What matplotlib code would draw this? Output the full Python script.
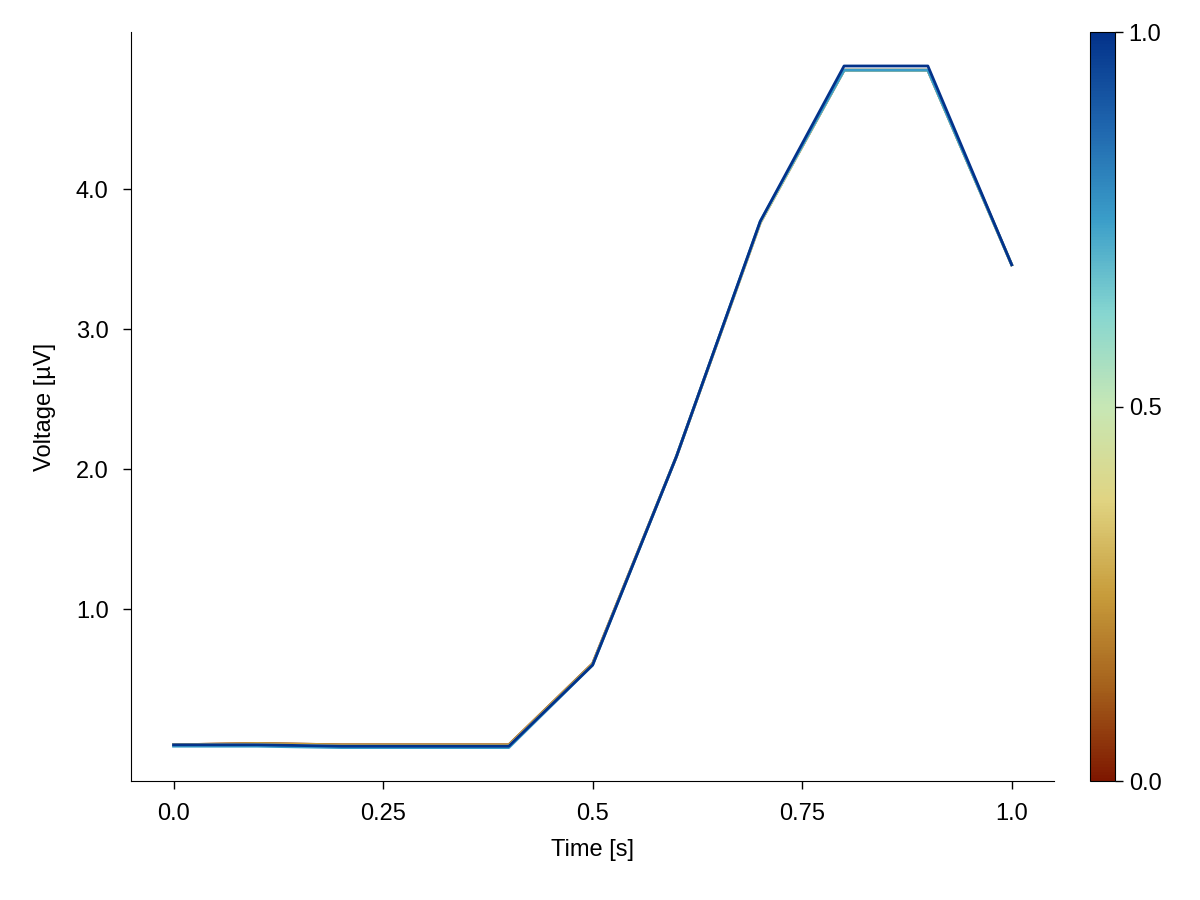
import numpy as np
import matplotlib.pyplot as plt
from matplotlib.colors import LinearSegmentedColormap
import matplotlib as mpl

plt.rcParams['font.family'] = ['Liberation Sans', 'DejaVu Sans']
plt.rcParams['font.size'] = 17

time = [0.0, 0.1, 0.2, 0.3, 0.4, 0.5, 0.6, 0.7, 0.8, 0.9, 1.0]
levels = [0.0, 0.25, 0.5, 0.75, 1.0]
series = [
    [0.03, 0.04, 0.03, 0.03, 0.03, 0.61, 2.09, 3.76, 4.85, 4.85, 3.46],
    [0.03, 0.04, 0.03, 0.03, 0.03, 0.61, 2.09, 3.76, 4.85, 4.85, 3.46],
    [0.03, 0.03, 0.02, 0.02, 0.02, 0.60, 2.09, 3.76, 4.85, 4.85, 3.46],
    [0.02, 0.02, 0.01, 0.01, 0.01, 0.60, 2.09, 3.77, 4.85, 4.85, 3.46],
    [0.03, 0.03, 0.02, 0.02, 0.02, 0.60, 2.09, 3.77, 4.88, 4.88, 3.46],
]

roma = LinearSegmentedColormap.from_list('roma', [
    '#7e1700', '#a5611c', '#c89d3c', '#e0d482', '#c7e7b5',
    '#86d6d0', '#3b9ec9', '#1f66ae', '#03328a'])

fig = plt.figure(figsize=(12, 9), dpi=100)
ax = fig.add_axes([0.109, 0.132, 0.769, 0.832])
for lv, vals in zip(levels, series):
    ax.plot(time, vals, color=roma(lv), lw=2.0)

ax.set_xlim(-0.051, 1.05)
ax.set_ylim(-0.23, 5.12)
ax.set_xticks([0, 0.25, 0.5, 0.75, 1.0])
ax.set_xticklabels(['0.0', '0.25', '0.5', '0.75', '1.0'])
ax.set_yticks([1, 2, 3, 4])
ax.set_yticklabels(['1.0', '2.0', '3.0', '4.0'])
ax.set_xlabel('Time [s]', labelpad=10)
ax.set_ylabel('Voltage [µV]', labelpad=14)
for s in ['top', 'right']:
    ax.spines[s].set_visible(False)
ax.tick_params(length=6, width=1, pad=10)

cax = fig.add_axes([0.908, 0.132, 0.021, 0.832])
cb = fig.colorbar(mpl.cm.ScalarMappable(cmap=roma, norm=mpl.colors.Normalize(0, 1)), cax=cax)
cb.set_ticks([0, 0.5, 1])
cb.set_ticklabels(['0.0', '0.5', '1.0'])
cax.tick_params(length=6, width=1, pad=4)

fig.savefig('out.png')
